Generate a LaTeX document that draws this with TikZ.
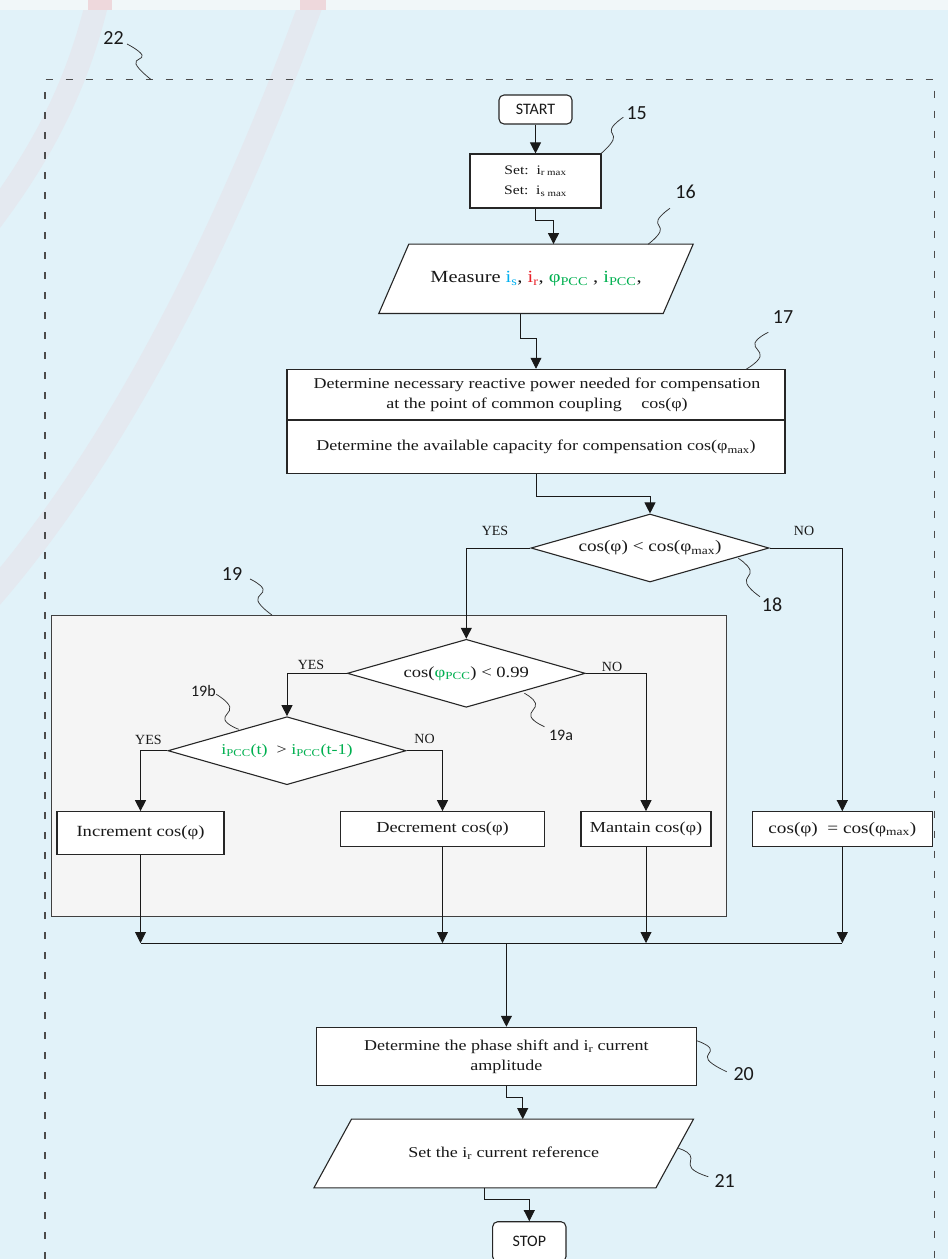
\documentclass[tikz,border=0pt]{standalone}
\usepackage{fontspec}
\setmainfont{Liberation Serif}[FakeStretch=1.2]
\newfontfamily\labfont{Carlito}
\newfontfamily\ynfont{Liberation Serif}
\usetikzlibrary{arrows.meta,shapes.geometric,calc}
\pgfdeclarelayer{back}
\pgfdeclarelayer{shapes}
\pgfsetlayers{back,shapes,main}
\definecolor{bgblue}{RGB}{225,242,249}
\definecolor{topstrip}{RGB}{241,247,249}
\definecolor{bandgrey}{RGB}{228,233,240}
\definecolor{bandpink}{RGB}{238,216,220}
\definecolor{boxgrey}{RGB}{245,245,245}
\definecolor{cblue}{RGB}{0,176,240}
\definecolor{cred}{RGB}{232,32,40}
\definecolor{cgreen}{RGB}{0,176,80}
\newcommand\sbs[1]{\textsubscript{#1}}
\begin{document}
\begin{tikzpicture}[x=1pt,y=-1pt,
  every node/.style={text=black!90},
  box/.style={draw=black!85,line width=1.1pt,fill=white,inner sep=0pt,align=center,font=\fontsize{15}{20}\selectfont},
  pbox/.style={draw=black!85,line width=1.1pt,fill=white},
  term/.style={box,rounded corners=5pt,font=\labfont\fontsize{16}{19}\selectfont},
  dia/.style={box,diamond,aspect=3.5,minimum width=238pt,minimum height=68pt},
  ptext/.style={inner sep=0pt,align=center,font=\fontsize{15}{20}\selectfont},
  txt/.style={inner sep=0pt,align=center,font=\fontsize{15}{20.3}\selectfont},
  yn/.style={inner sep=0pt,font=\ynfont\fontsize{14}{16}\selectfont},
  lab/.style={inner sep=0pt,font=\labfont\fontsize{20}{24}\selectfont},
  labs/.style={inner sep=0pt,font=\labfont\fontsize{16}{19}\selectfont},
  conn/.style={line width=0.9pt,draw=black!90},
  arr/.style={conn,-{Triangle[length=11pt,width=11pt]}},
  lead/.style={line width=0.75pt,draw=black!80},
  dashframe/.style={draw=black!70,line width=1.1pt,dash pattern=on 7pt off 13pt}
]
% ---------- background ----------
\useasboundingbox (0,0) rectangle (948,1259);
\clip (0,0) rectangle (948,1259);
\begin{pgfonlayer}{back}
\fill[bgblue] (0,0) rectangle (948,1259);
\draw[bandgrey,line width=23pt] (100,-10) .. controls (82,70) and (52,140) .. (-10,222);
\draw[bandgrey,line width=24pt] (316,-10) .. controls (255,160) and (145,420) .. (-10,598);
\fill[topstrip] (0,0) rectangle (948,10);
\fill[bandpink] (88,0) rectangle (112,10);
\fill[bandpink] (300,0) rectangle (326,10);
\end{pgfonlayer}

% ---------- outer dashed frame 22 ----------
\draw[dashframe] (45,1259) -- (45,79.5) -- (934.5,79.5) -- (934.5,1259);
\node[lab] (l22) at (113.5,38.3) {22};
\draw[lead] plot[smooth,tension=0.8] coordinates {(127,44) (142,55) (136,64) (151,79.5)};

% ---------- grey block 19 ----------
\node[draw=black!75,line width=1pt,fill=boxgrey,minimum width=674.8pt,minimum height=301.7pt,inner sep=0pt] (g19) at (388.6,765.85) {};
\node[lab] (l19) at (232,574) {19};
\draw[lead] plot[smooth,tension=0.8] coordinates {(250,579) (263,589) (258,601) (272,615)};

% ---------- nodes ----------
\node[term,minimum width=73pt,minimum height=29pt] (start) at (535.5,109.5) {START};
\node[box,minimum width=131pt,minimum height=54pt,font=\fontsize{13}{20.6}\selectfont] (set) at (535.5,181)
  {Set:\ \ i\sbs{r max}\\Set:\ \ i\sbs{s max}};

\node[ptext,minimum width=284pt,minimum height=69pt,font=\fontsize{17}{22}\selectfont] (measure) at (536,278.8)
  {Measure {\color{cblue}i\sbs{s}}, {\color{cred}i\sbs{r}}, {\color{cgreen}φ\sbs{PCC}} , {\color{cgreen}i\sbs{PCC}},};
\begin{pgfonlayer}{shapes}
\draw[pbox] ([xshift=15pt]measure.north west) -- ([xshift=15pt]measure.north east)
  -- ([xshift=-15pt]measure.south east) -- ([xshift=-15pt]measure.south west) -- cycle;
\end{pgfonlayer}

\node[box,minimum width=498pt,minimum height=104pt] (det) at (536,421.3) {};
\draw[draw=black!85,line width=1.1pt] (det.west |- 0,420) -- (det.east |- 0,420);
\node[txt] (det1) at (537,395) {Determine necessary reactive power needed for compensation\\at the point of common coupling\quad\ cos(φ)};
\node[txt] (det2) at (536,447.3) {Determine the available capacity for compensation cos(φ\sbs{max})};

\node[dia,font=\fontsize{16}{20}\selectfont] (d18) at (650,548) {cos(φ) < cos(φ\sbs{max})};
\node[dia,font=\fontsize{15.5}{20}\selectfont] (d19a) at (466.3,673.3) {cos({\color{cgreen}φ\sbs{PCC}}) < 0.99};
\node[dia,font=\fontsize{15}{20}\selectfont] (d19b) at (287,750.7) {{\color{cgreen}i\sbs{PCC}(t)}\ \ > {\color{cgreen}i\sbs{PCC}(t-1)}};

\node[box,minimum width=167pt,minimum height=42.6pt,font=\fontsize{15.5}{20}\selectfont] (inc) at (140.5,833) {Increment cos(φ)};
\node[box,minimum width=204pt,minimum height=35pt,font=\fontsize{15.3}{20}\selectfont] (dec) at (442.5,829.2) {Decrement cos(φ)};
\node[box,minimum width=130pt,minimum height=35pt,font=\fontsize{15.2}{20}\selectfont] (mant) at (646,829.2) {Mantain cos(φ)};
\node[box,minimum width=180pt,minimum height=35pt,font=\fontsize{16}{20}\selectfont] (cosb) at (842.3,829.2) {cos(φ) \ = cos(φ\sbs{max})};

\node[box,minimum width=380.7pt,minimum height=58.4pt] (b20) at (506.4,1056.5) {Determine the phase shift and i\sbs{r} current\\amplitude};

\node[ptext,minimum width=341.6pt,minimum height=68.4pt] (p21) at (503.7,1153.5) {Set the i\sbs{r} current reference};
\begin{pgfonlayer}{shapes}
\draw[pbox] ([xshift=18.8pt]p21.north west) -- ([xshift=18.8pt]p21.north east)
  -- ([xshift=-18.8pt]p21.south east) -- ([xshift=-18.8pt]p21.south west) -- cycle;
\end{pgfonlayer}
\node[term,minimum width=73.3pt,minimum height=40pt] (stop) at (529.3,1241.7) {STOP};

% ---------- merge points ----------
\coordinate (mL) at (140.5,943);
\coordinate (mR) at (842.3,943);
\coordinate (mC) at (506.4,943);

% ---------- connectors ----------
\draw[arr] (start) -- (set);
\draw[arr] (set.south) -- ++(0,12) -| ([xshift=17.5pt]measure.north);
\draw[arr] ([xshift=-16pt]measure.south) -- ++(0,25) -| (det.north);
\draw[arr] (det.south) -- ++(0,22.7) -| (d18.north);
\draw[arr] (d18.west) -| (d19a.north);
\draw[arr] (d18.east) -| (cosb.north);
\draw[arr] (d19a.west) -| (d19b.north);
\draw[arr] (d19a.east) -| (mant.north);
\draw[arr] (d19b.west) -| (inc.north);
\draw[arr] (d19b.east) -| (dec.north);
\draw[arr] (inc.south) -- (inc.south |- mL);
\draw[arr] (dec.south) -- (dec.south |- mL);
\draw[arr] (mant.south) -- (mant.south |- mL);
\draw[arr] (cosb.south) -- (cosb.south |- mL);
\draw[conn] (mL) -- (mR);
\draw[arr] (mC) -- (b20.north);
\draw[arr] (b20.south) -- ++(0,11) -| ([xshift=19pt]p21.north);
\draw[arr] ([xshift=-19.4pt]p21.south) -- ++(0,11.6) -| (stop.north);

% ---------- YES / NO ----------
\node[yn] (y18) at (495,531.3) {YES};
\node[yn] (n18) at (804,530.5) {NO};
\node[yn] (y19a) at (311,664.5) {YES};
\node[yn] (n19a) at (612,667) {NO};
\node[yn] (y19b) at (148.4,739.5) {YES};
\node[yn] (n19b) at (424.6,738.5) {NO};

% ---------- reference labels ----------
\node[lab] (l15) at (636.7,113.3) {15};
\draw[lead] plot[smooth,tension=0.8] coordinates {(623.3,117.3) (611.7,128.3) (613,140) (600.5,154)};
\node[lab] (l16) at (685.5,192) {16};
\draw[lead] plot[smooth,tension=0.8] coordinates {(670,208.3) (658,220) (660,231.7) (648,244.3)};
\node[lab] (l17) at (783,316.7) {17};
\draw[lead] plot[smooth,tension=0.8] coordinates {(768.3,332.3) (755,343) (760,356.7) (746,369.3)};
\node[lab] (l18) at (772,605) {18};
\draw[lead] plot[smooth,tension=0.8] coordinates {(738.3,558.3) (750,570) (746.7,583.3) (760,596.7)};
\node[labs] (l19a) at (561,735) {19a};
\draw[lead] plot[smooth,tension=0.8] coordinates {(524.4,693.3) (535.5,703.3) (531,716.7) (544.5,726.7)};
\node[labs] (l19b) at (203.4,690.5) {19b};
\draw[lead] plot[smooth,tension=0.8] coordinates {(216.3,694.3) (229.7,706.7) (225,720) (238.7,729.3)};
\node[lab] (l20) at (743.7,1073.7) {20};
\draw[lead] plot[smooth,tension=0.8] coordinates {(696.7,1040.7) (710,1048.3) (708.3,1060) (726.7,1071.7)};
\node[lab] (l21) at (724.7,1181) {21};
\draw[lead] plot[smooth,tension=0.8] coordinates {(678.3,1148.3) (690,1155) (691.7,1168.3) (708.3,1176.7)};
\end{tikzpicture}
\end{document}
